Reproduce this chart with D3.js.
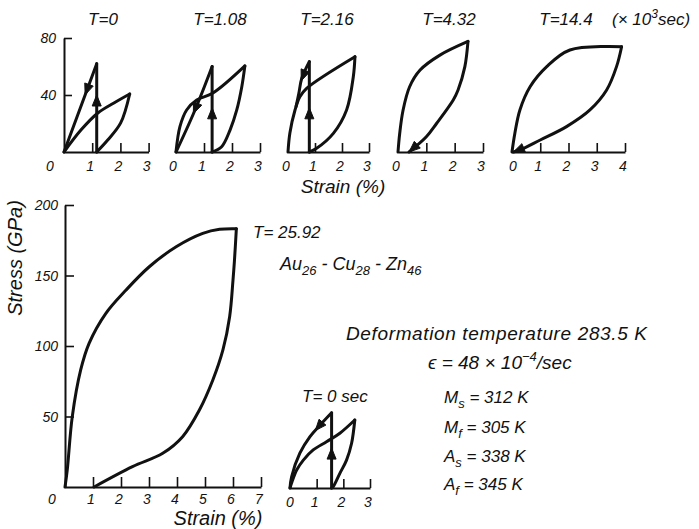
<!DOCTYPE html>
<html><head><meta charset="utf-8">
<script src="https://cdn.jsdelivr.net/npm/d3@7"></script>
<style>
body{margin:0;background:#fff;}
svg text{font-family:"Liberation Sans",Arial,sans-serif;font-style:italic;fill:#111;}
</style></head><body>
<svg id="c" width="699" height="529"></svg>
<script>
// ---------- DATA (strain %, stress GPa) ----------
const topTitles = ["T=0","T=1.08","T=2.16","T=4.32","T=14.4"];
const topTicks3 = [0,1,2,3];
const topTicks4 = [0,1,2,3,4];
const topYTicks = [40,80];
// T=0
const p1Load   = [[0,0],[0.6,15.4],[1.2,27.4],[1.77,34.4],[2.33,40.7]];
const p1Unload = [[2.33,40.7],[2.01,20.4],[1.55,8.4],[1.16,0]];
const p1Jump   = [[1.16,0],[1.16,62]];
const p1Return = [[1.16,62],[0,0]];
// T=1.08
const p2Load   = [[0,0],[0.14,17.8],[0.38,29.5],[0.74,36.5],[1.32,41.4],[2.46,60.4]];
const p2Unload = [[2.46,60.4],[2.35,45.8],[2.17,29.5],[1.93,15.4],[1.63,3.7],[1.29,0]];
const p2Jump   = [[1.29,0],[1.29,60]];
const p2Return = [[1.29,60],[0.68,29.5],[0,0]];
// T=2.16
const p3Load   = [[0,0],[0.07,13.3],[0.26,29.5],[0.44,38.8],[0.69,44.7],[2.48,66.9]];
const p3Unload = [[2.48,66.9],[2.42,53],[2.17,29.5],[1.68,13.1],[1.06,2.6],[0.79,0]];
const p3Jump   = [[0.79,0],[0.79,63.4]];
const p3Return = [[0.79,63.4],[0.51,51.7],[0.4,41],[0.3,32]];
// T=4.32
const p4Load   = [[0,0],[0.06,13],[0.18,29.5],[0.41,45.8],[0.78,57.5],[1.48,68],[2.47,77.6]];
const p4Unload = [[2.47,77.6],[2.36,59.9],[2.12,43.5],[1.95,36.5],[1.36,20],[1.0,10.7],[0.39,0]];
// T=14.4
const p5Load   = [[0,0],[0.1,13],[0.28,29.5],[0.64,45.8],[1.23,59.9],[2.05,71.6],[3.88,73.9]];
const p5Unload = [[3.88,73.9],[3.7,59.9],[3.35,43.5],[2.76,29.5],[1.93,17.8],[1.0,8.4],[0.28,1.4],[0.05,0]];
// T=25.92 (main)
const mainXTicks = [0,1,2,3,4,5,6,7];
const mainYTicks = [50,100,150,200];
const mLoad   = [[0,0],[0.08,12],[0.26,49.9],[0.56,83],[0.86,101.9],[1.46,123.2],[2.18,139.7],[3.01,156.2],[3.97,170.4],[4.92,179.9],[5.52,182.8],[6.12,183.2]];
const mUnload = [[6.12,183.2],[6.05,160],[6.0,146.8],[5.88,120.8],[5.64,97.2],[5.28,75.9],[4.8,54.6],[4.2,35.7],[3.49,23.9],[2.41,14.4],[1.04,0]];
// T=0 sec inset
const iLoad   = [[0,0],[0.06,3.5],[0.25,12.6],[0.5,19.6],[0.87,26.7],[1.37,32.5],[1.87,38.4],[2.43,47.7]];
const iUnload = [[2.43,47.7],[2.31,31.4],[2.12,19.6],[1.87,10.3],[1.62,0.9],[1.56,0]];
const iJump   = [[1.56,0],[1.56,52.8]];
const iReturn = [[1.56,52.8],[1.12,44],[0.75,36],[0.37,24.4],[0.06,7.9],[0,0]];
// arrows: [tip, from]
const p1Arrows = [[[1.16,40],[1.16,20]],[[0.75,40.1],[1.0,53.4]]];
const p2Arrows = [[[1.29,31],[1.29,10]],[[0.62,27],[0.9,40]]];
const p3Arrows = [[[0.79,31],[0.79,10]],[[0.49,50],[0.7,60]]];
const p4Arrows = [[[0.39,0],[1.0,10.7]]];
const p5Arrows = [[[0.05,0],[0.6,4.5]]];
const iArrows  = [[[1.56,28],[1.56,10]],[[0.95,40.3],[1.3,48]]];

// ---------- DRAW ----------
const svg = d3.select("#c");
const INK = "#111";
const smooth = d3.curveCatmullRom.alpha(0.5);

function curve(g, xs, ys, data, straight){
  g.append("path").datum(data)
   .attr("d", d3.line().x(d=>xs(d[0])).y(d=>ys(d[1])).curve(straight?d3.curveLinear:smooth))
   .attr("fill","none").attr("stroke",INK).attr("stroke-width",3)
   .attr("stroke-linejoin","round").attr("stroke-linecap","round");
}
function arrow(g, xs, ys, a){
  const p=[xs(a[0][0]),ys(a[0][1])], q=[xs(a[1][0]),ys(a[1][1])];
  const ang=Math.atan2(p[1]-q[1],p[0]-q[0]), L=11, W=4.5;
  const bx=p[0]-L*Math.cos(ang), by=p[1]-L*Math.sin(ang);
  const nx=-Math.sin(ang), ny=Math.cos(ang);
  g.append("path").attr("d",`M${p[0]},${p[1]}L${bx+W*nx},${by+W*ny}L${bx-W*nx},${by-W*ny}Z`)
   .attr("fill",INK).attr("stroke",INK).attr("stroke-width",1);
}
function xAxis(g, xs, y0, vals, tick){
  const ax=g.append("g").attr("transform",`translate(0,${y0})`)
    .call(d3.axisBottom(xs).tickValues(vals).tickSize(-tick).tickSizeOuter(0).tickFormat(""));
  ax.select(".domain").attr("stroke",INK).attr("stroke-width",2);
  ax.selectAll(".tick line").attr("stroke",INK).attr("stroke-width",1.6);
}
function xLabels(g, xs, y, vals, dx){
  g.selectAll(null).data(vals).enter().append("text")
   .attr("x",v=>xs(v)+(v===0?dx:-2)).attr("y",y).attr("text-anchor","middle")
   .attr("font-size",14).text(v=>v);
}

// top panels
const yTop = d3.scaleLinear().domain([0,80]).range([152,38]);
const topPanels = [
  {x:d3.scaleLinear().domain([0,3]).range([64,148.6]), tx:103, parts:[[p1Load],[p1Unload],[p1Jump,1],[p1Return,1]], arrows:p1Arrows, ticks:topTicks3, zero:-14},
  {x:d3.scaleLinear().domain([0,3]).range([176,260]), tx:220, parts:[[p2Load],[p2Unload],[p2Jump,1],[p2Return]], arrows:p2Arrows, ticks:topTicks3, zero:-3},
  {x:d3.scaleLinear().domain([0,3]).range([288,369]), tx:327, parts:[[p3Load],[p3Unload],[p3Jump,1],[p3Return]], arrows:p3Arrows, ticks:topTicks3, zero:-2},
  {x:d3.scaleLinear().domain([0,3]).range([398,483]), tx:449, parts:[[p4Load],[p4Unload]], arrows:p4Arrows, ticks:topTicks3, zero:-2},
  {x:d3.scaleLinear().domain([0,4]).range([512,625]), tx:566, parts:[[p5Load],[p5Unload]], arrows:p5Arrows, ticks:topTicks4, zero:1}
];
topPanels.forEach((p,i)=>{
  const g=svg.append("g");
  xAxis(g,p.x,yTop(0),p.ticks.slice(1),9);
  p.parts.forEach(pt=>curve(g,p.x,yTop,pt[0],pt[1]));
  p.arrows.forEach(a=>arrow(g,p.x,yTop,a));
  xLabels(g,p.x,171,p.ticks,p.zero);
  g.append("text").attr("x",p.tx).attr("y",25).attr("text-anchor","middle").attr("font-size",17).text(topTitles[i]);
});
// y axis of first panel
{
  const g=svg.append("g").attr("transform",`translate(${topPanels[0].x(0)},0)`);
  g.call(d3.axisLeft(yTop).tickValues(topYTicks).tickSize(-8).tickSizeOuter(0).tickFormat(""));
  g.select(".domain").attr("stroke",INK).attr("stroke-width",2);
  g.selectAll(".tick line").attr("stroke",INK).attr("stroke-width",1.6);
  svg.selectAll(null).data(topYTicks).enter().append("text")
    .attr("x",56).attr("y",v=>yTop(v)+5).attr("text-anchor","end").attr("font-size",14).text(v=>v);
}
svg.append("text").attr("x",612).attr("y",25).attr("font-size",17)
  .html('(× 10<tspan dy="-7" font-size="12">3</tspan><tspan dy="7">sec)</tspan>');
svg.append("text").attr("x",343).attr("y",193).attr("text-anchor","middle").attr("font-size",19).text("Strain (%)");

// main panel
const mx = d3.scaleLinear().domain([0,7]).range([65,261]);
const my = d3.scaleLinear().domain([0,200]).range([487,205]);
{
  const g=svg.append("g");
  xAxis(g,mx,my(0),mainXTicks.slice(1),10);
  const ya=g.append("g").attr("transform",`translate(${mx(0)},0)`)
    .call(d3.axisLeft(my).tickValues(mainYTicks).tickSize(-9).tickSizeOuter(0).tickFormat(""));
  ya.select(".domain").attr("stroke",INK).attr("stroke-width",2);
  ya.selectAll(".tick line").attr("stroke",INK).attr("stroke-width",1.6);
  curve(g,mx,my,mLoad); curve(g,mx,my,mUnload);
  xLabels(g,mx,504,mainXTicks,-13);
  g.selectAll(null).data(mainYTicks).enter().append("text")
    .attr("x",58).attr("y",v=>my(v)+5).attr("text-anchor","end").attr("font-size",14).text(v=>v);
  g.append("text").attr("x",218).attr("y",525).attr("text-anchor","middle").attr("font-size",20).text("Strain (%)");
  g.append("text").attr("transform","translate(22,258) rotate(-90)").attr("text-anchor","middle").attr("font-size",20).text("Stress (GPa)");
  g.append("text").attr("x",253).attr("y",238).attr("font-size",17).text("T= 25.92");
}
// inset
const ix = d3.scaleLinear().domain([0,3]).range([290,370]);
const iy = d3.scaleLinear().domain([0,80]).range([488,374]);
{
  const g=svg.append("g");
  xAxis(g,ix,iy(0),[1,2,3],9);
  [iLoad,iUnload].forEach(d=>curve(g,ix,iy,d));
  curve(g,ix,iy,iJump,1); curve(g,ix,iy,iReturn);
  iArrows.forEach(a=>arrow(g,ix,iy,a));
  xLabels(g,ix,507,[0,1,2,3],0);
  g.append("text").attr("x",302).attr("y",402).attr("font-size",17).text("T= 0 sec");
}
// annotations
svg.append("text").attr("x",280).attr("y",270).attr("font-size",18)
  .html('Au<tspan dy="5" font-size="13">26</tspan><tspan dy="-5"> - Cu</tspan><tspan dy="5" font-size="13">28</tspan><tspan dy="-5"> - Zn</tspan><tspan dy="5" font-size="13">46</tspan>');
svg.append("text").attr("x",346).attr("y",340).attr("font-size",19)
  .attr("textLength",301).attr("lengthAdjust","spacing").text("Deformation  temperature  283.5 K");
svg.append("text").attr("x",428).attr("y",369).attr("font-size",19)
  .html('ϵ = 48 × 10<tspan dy="-8" font-size="13">−4</tspan><tspan dy="8">/sec</tspan>');
const params = [["M","s","312 K",403],["M","f","305 K",433],["A","s","338 K",462],["A","f","345 K",490]];
params.forEach(p=>{
  svg.append("text").attr("x",444).attr("y",p[3]).attr("font-size",17)
    .html(`${p[0]}<tspan dy="5" font-size="13">${p[1]}</tspan><tspan dy="-5"> = ${p[2]}</tspan>`);
});
</script>
</body></html>
